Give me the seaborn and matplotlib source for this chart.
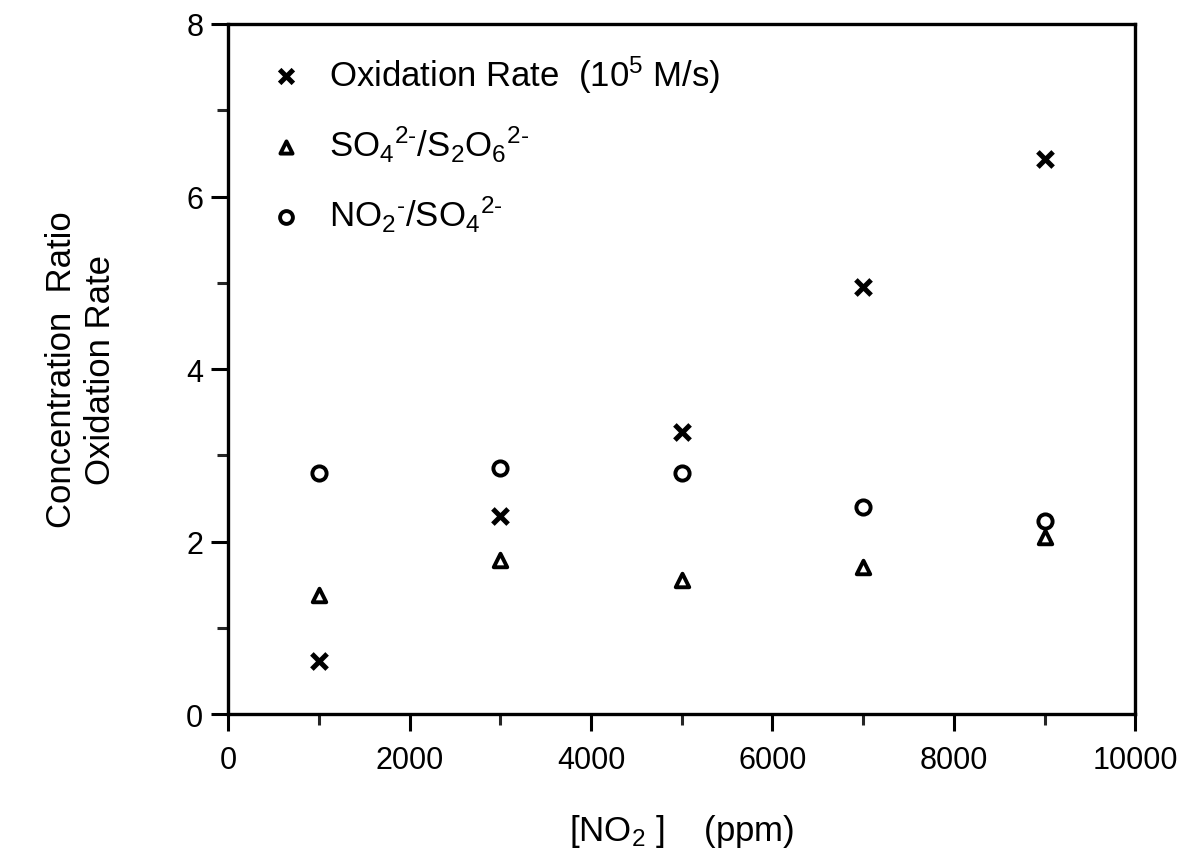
import matplotlib
matplotlib.use("Agg")
import matplotlib.pyplot as plt
import seaborn as sns
import pandas as pd
from matplotlib.ticker import MultipleLocator

no2_ppm = [1000, 3000, 5000, 7000, 9000]
oxidation_rate = [0.61, 2.30, 3.27, 4.95, 6.43]
so4_s2o6 = [1.38, 1.79, 1.55, 1.70, 2.05]
no2_so4 = [2.80, 2.85, 2.80, 2.40, 2.24]

series_labels = [
    "Oxidation Rate  (10$^5$ M/s)",
    "SO$_4$$^{2\u2010}$/S$_2$O$_6$$^{2\u2010}$",
    "NO$_2$$^{\u2010}$/SO$_4$$^{2\u2010}$",
]

sns.set_theme(style="ticks")
plt.rcParams["font.family"] = ["Liberation Sans", "DejaVu Sans"]
plt.rcParams["mathtext.fontset"] = "custom"
plt.rcParams["mathtext.rm"] = "Liberation Sans"
plt.rcParams["mathtext.it"] = "Liberation Sans"
plt.rcParams["text.color"] = "black"
plt.rcParams["axes.labelcolor"] = "black"

df = pd.DataFrame({
    "x": no2_ppm * 3,
    "y": oxidation_rate + so4_s2o6 + no2_so4,
    "series": [series_labels[0]] * 5 + [series_labels[1]] * 5 + [series_labels[2]] * 5,
})

fig = plt.figure(figsize=(11.95, 8.62), dpi=100)
ax = fig.add_axes([0.191, 0.1705, 0.759, 0.8005])

styles = [
    dict(marker="x", s=120, color="black", linewidth=3.6),
    dict(marker="^", s=95, facecolor="white", edgecolor="black", linewidth=2.8),
    dict(marker="o", s=105, facecolor="white", edgecolor="black", linewidth=2.8),
]
for lab, st in zip(series_labels, styles):
    sub = df[df["series"] == lab]
    sns.scatterplot(data=sub, x="x", y="y", ax=ax, label=lab, zorder=3, **st)

ax.set_xlim(0, 10000)
ax.set_ylim(0, 8)
ax.xaxis.set_major_locator(MultipleLocator(2000))
ax.xaxis.set_minor_locator(MultipleLocator(1000))
ax.yaxis.set_major_locator(MultipleLocator(2))
ax.yaxis.set_minor_locator(MultipleLocator(1))
ax.tick_params(axis="both", which="major", direction="out", length=12, width=2.2,
               labelsize=22, colors="black")
ax.tick_params(axis="x", which="major", pad=10)
ax.tick_params(axis="y", which="major", pad=6)
ax.tick_params(axis="both", which="minor", direction="out", length=8, width=2.2)
for sp in ax.spines.values():
    sp.set_linewidth(2.4)
    sp.set_color("black")
    sp.set_visible(True)

ax.set_xlabel("[NO$_2$ ]    (ppm)", fontsize=25, labelpad=27)
ax.set_ylabel("Concentration  Ratio\nOxidation Rate", fontsize=25, labelpad=50,
              linespacing=1.2)

leg = ax.legend(loc="upper left", bbox_to_anchor=(0.01, 0.978), frameon=False,
                fontsize=25, handletextpad=0.25, labelspacing=0.85, markerscale=0.9,
                borderaxespad=0)

fig.savefig("out.png", dpi=100)
